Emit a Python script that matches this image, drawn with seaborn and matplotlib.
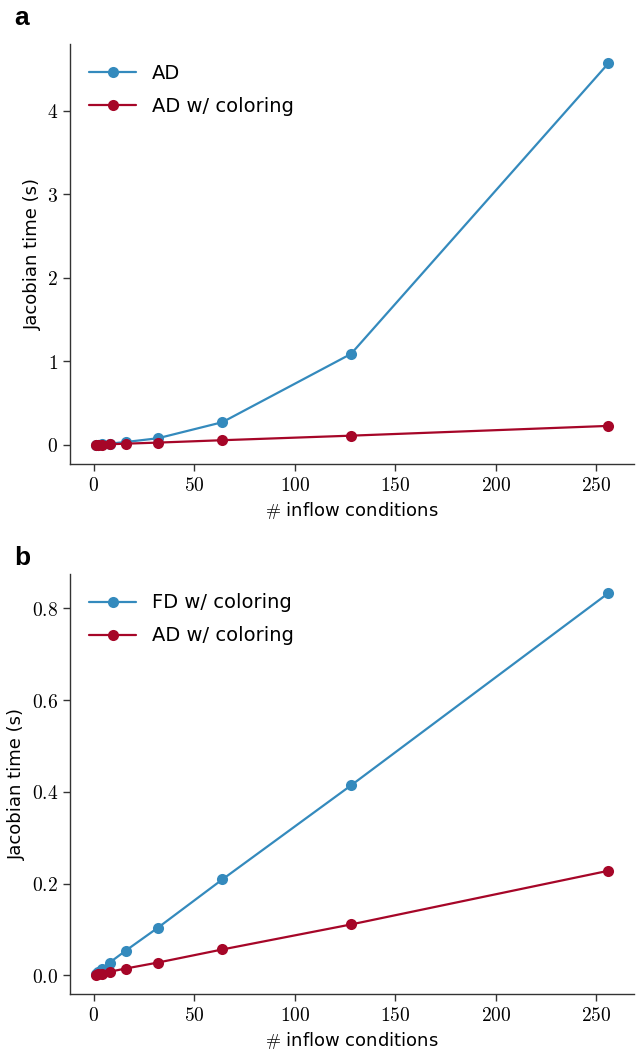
import numpy as np
import pandas as pd
import matplotlib
matplotlib.use("Agg")
import matplotlib.pyplot as plt
import matplotlib.ticker as mticker
import seaborn as sns

# ---- data ----
n_inflow = [1, 2, 4, 8, 16, 32, 64, 128, 256]
ad_time = [0.002, 0.003, 0.007, 0.015, 0.035, 0.08, 0.272, 1.09, 4.57]
ad_color_time = [0.001, 0.002, 0.004, 0.008, 0.015, 0.028, 0.0565, 0.111, 0.228]
fd_color_time = [0.004, 0.008, 0.015, 0.028, 0.054, 0.104, 0.209, 0.414, 0.833]

labels_a = ["AD", "AD w/ coloring"]
labels_b = ["FD w/ coloring", "AD w/ coloring"]
colors = ["#348ABD", "#A60628"]

sns.set_style("ticks")
plt.rcParams["font.family"] = ["DejaVu Sans"]
plt.rcParams["mathtext.fontset"] = "cm"
plt.rcParams["text.color"] = "black"
plt.rcParams["axes.labelcolor"] = "black"
plt.rcParams["xtick.color"] = "black"
plt.rcParams["ytick.color"] = "black"

df_a = pd.DataFrame({
    "n": n_inflow * 2,
    "t": ad_time + ad_color_time,
    "method": [labels_a[0]] * len(n_inflow) + [labels_a[1]] * len(n_inflow),
})
df_b = pd.DataFrame({
    "n": n_inflow * 2,
    "t": fd_color_time + ad_color_time,
    "method": [labels_b[0]] * len(n_inflow) + [labels_b[1]] * len(n_inflow),
})

fig = plt.figure(figsize=(6.36, 10.52), dpi=100)
ax_a = fig.add_axes([0.110, 0.559, 0.887, 0.399])
ax_b = fig.add_axes([0.110, 0.0551, 0.887, 0.3993])

def math_fmt(fmt):
    return mticker.FuncFormatter(lambda v, p: "$" + (fmt % v) + "$")

for ax, df, labs, yfmt, yticks in [
    (ax_a, df_a, labels_a, "%g", [0, 1, 2, 3, 4]),
    (ax_b, df_b, labels_b, "%.1f", [0.0, 0.2, 0.4, 0.6, 0.8]),
]:
    sns.lineplot(data=df, x="n", y="t", hue="method", hue_order=labs,
                 palette=colors, marker="o", markersize=8, markeredgewidth=0,
                 linewidth=1.6, ax=ax)
    ax.set_xticks([0, 50, 100, 150, 200, 250])
    ax.set_yticks(yticks)
    ax.xaxis.set_major_formatter(math_fmt("%g"))
    ax.yaxis.set_major_formatter(math_fmt(yfmt))
    ax.tick_params(labelsize=14, length=5, width=1, color="#333333",
                   labelcolor="black")
    ax.set_xlabel(r"$\#$ inflow conditions", fontsize=13, color="black")
    ax.set_ylabel("Jacobian time (s)", fontsize=13, color="black")
    for s in ["left", "bottom"]:
        ax.spines[s].set_color("#333333")
        ax.spines[s].set_linewidth(1)
    sns.despine(ax=ax)
    leg = ax.legend(loc="upper left", frameon=False, fontsize=14,
                    handlelength=2.4, borderaxespad=0.6, labelspacing=0.72)
    for t in leg.get_texts():
        t.set_color("black")

fig.text(0.022, 0.983, "a", fontsize=19, fontweight="bold", color="black",
         family=["Liberation Sans"], va="center", ha="left")
fig.text(0.022, 0.470, "b", fontsize=19, fontweight="bold", color="black",
         family=["Liberation Sans"], va="center", ha="left")

fig.savefig("out.png", dpi=100)
